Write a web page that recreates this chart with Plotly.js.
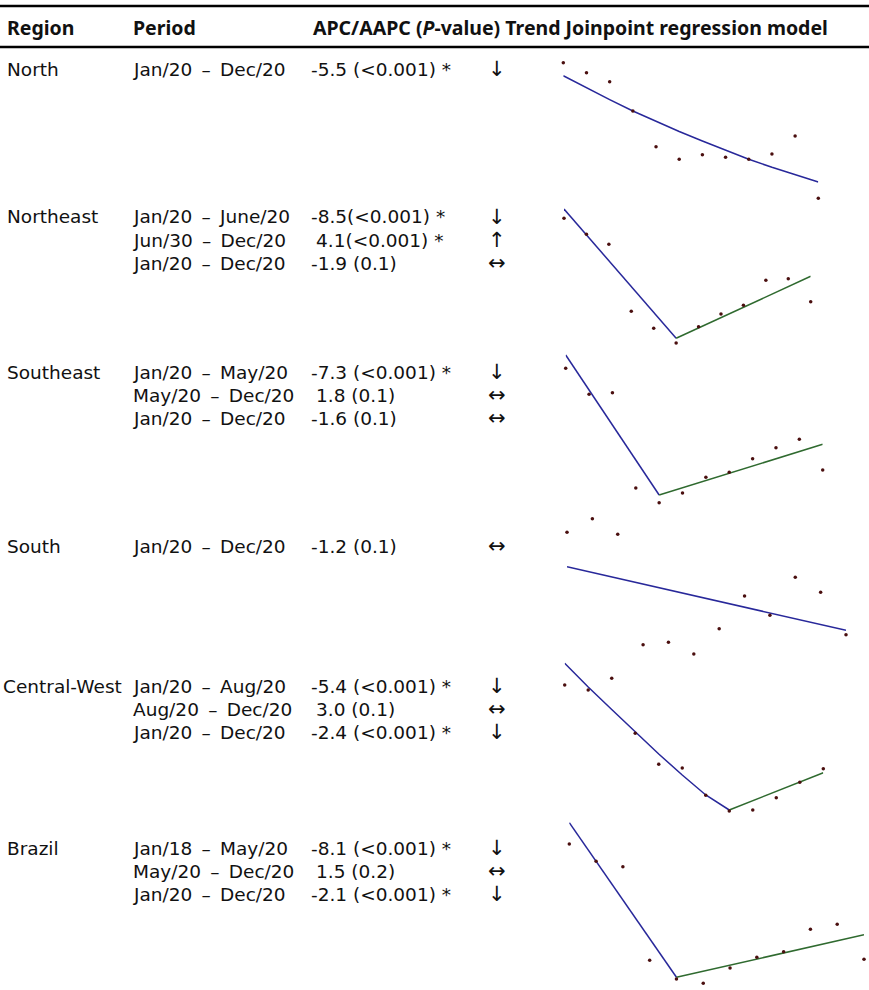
<!DOCTYPE html>
<html>
<head>
<meta charset="utf-8">
<script src="https://cdn.plot.ly/plotly-3.0.1.min.js"></script>
<style>html,body{margin:0;padding:0;background:#fff;}#chart{width:869px;height:990px;}</style>
</head>
<body>
<div id="chart"></div>
<script>
// ---------------- DATA ----------------
const months = [1,2,3,4,5,6,7,8,9,10,11,12];
const regionNames = ["North","Northeast","Southeast","South","Central-West","Brazil"];

const periods = [
  ["Jan/20 \u2013 Dec/20"],
  ["Jan/20 \u2013 June/20","Jun/30 \u2013 Dec/20","Jan/20 \u2013 Dec/20"],
  ["Jan/20 \u2013 May/20","May/20 \u2013 Dec/20","Jan/20 \u2013 Dec/20"],
  ["Jan/20 \u2013 Dec/20"],
  ["Jan/20 \u2013 Aug/20","Aug/20 \u2013 Dec/20","Jan/20 \u2013 Dec/20"],
  ["Jan/18 \u2013 May/20","May/20 \u2013 Dec/20","Jan/20 \u2013 Dec/20"]
];
const apcValues = [
  ["-5.5 (&lt;0.001) *"],
  ["-8.5(&lt;0.001) *","4.1(&lt;0.001) *","-1.9 (0.1)"],
  ["-7.3 (&lt;0.001) *","1.8 (0.1)","-1.6 (0.1)"],
  ["-1.2 (0.1)"],
  ["-5.4 (&lt;0.001) *","3.0 (0.1)","-2.4 (&lt;0.001) *"],
  ["-8.1 (&lt;0.001) *","1.5 (0.2)","-2.1 (&lt;0.001) *"]
];
const trends = [
  ["\u2193"],
  ["\u2193","\u2191","\u2194"],
  ["\u2193","\u2194","\u2194"],
  ["\u2194"],
  ["\u2193","\u2194","\u2193"],
  ["\u2193","\u2194","\u2193"]
];

// observed monthly values (relative units per panel) and joinpoint fitted segments
const northObs = [142.3,132.3,123.3,94,58.3,45.7,50.3,47.7,45.7,51,69,6.7];
const northFit = [129.3,117.2,105.4,94,83.5,73.5,64,54.7,45.7,37.7,30.2,23];

const neObs  = [131.7,115.7,105.7,38.7,21.7,7,23.3,36,44.7,69.7,71.3,48.3];
const neFit1 = [141,115.1,89.3,63.4,37.5,11.7];          // Jan-Jun
const neFit2 = [11.7,22,32.3,42.7,53,63.3,73.7];         // Jun-Dec

const seObs  = [141.7,115.7,117.3,22,7.3,17,32.7,37.7,51.3,62.3,70.7,40];
const seFit1 = [155,120,85,50,15];                       // Jan-May
const seFit2 = [15,22.2,29.5,36.7,44,51.2,58.5,65.7];    // May-Dec

const sObs = [127.7,141.3,125.7,15.3,17.7,6,31.3,64,44.7,82.7,67.7,25.3];
const sFit = [93.3,87.5,81.7,76,70.2,64.4,58.6,52.8,47,41.3,35.5,29.7];

const cwObs  = [135,130,141.7,86.7,55.7,52,24.7,9,10,22.3,37.7,51.3];
const cwFit1 = [156.7,133,110.5,88,66,45,25,10];         // Jan-Aug
const cwFit2 = [10,19.3,28.7,38,47.3];                   // Aug-Dec

const brObs  = [146,128.7,123.3,29.7,11,6.7,22,32.7,38.3,60.7,65.7,30.7];
const brFit1 = [167.3,128.7,90,51.4,12.7];               // Jan-May
const brFit2 = [12.7,18.8,24.9,31,37.1,43.2,49.2,55.3];  // May-Dec

// ---------------- LAYOUT / DRAW ----------------
const W = 869, H = 990;
const FONT = "DejaVu Sans, sans-serif";
const HFONT = "Noto Sans, sans-serif";
const BLUE = "#28289a", GREEN = "#2f6a2f", DOT = "#4a0f0f";

const panels = [
  {obs: northObs, segs: [[1, northFit, BLUE]],                 px: [563.3, 818.3], py: [55, 205]},
  {obs: neObs,    segs: [[1, neFit1, BLUE], [6, neFit2, GREEN]], px: [564, 810.7],   py: [205, 350]},
  {obs: seObs,    segs: [[1, seFit1, BLUE], [5, seFit2, GREEN]], px: [565.7, 822.7], py: [350, 510]},
  {obs: sObs,     segs: [[1, sFit, BLUE]],                     px: [567, 846],     py: [510, 660]},
  {obs: cwObs,    segs: [[1, cwFit1, BLUE], [8, cwFit2, GREEN]], px: [564.7, 823.3], py: [660, 820]},
  {obs: brObs,    segs: [[1, brFit1, BLUE], [5, brFit2, GREEN]], px: [569.3, 864],   py: [820, 990]}
];
const rowY = [[69],[217,240,263],[372,395,418],[546],[686,709,732],[848,871,894]];

const traces = [];
const layout = {
  width: W, height: H, margin: {l:0, r:0, t:0, b:0},
  paper_bgcolor: "#fff", plot_bgcolor: "rgba(0,0,0,0)",
  showlegend: false, annotations: [], shapes: [],
  font: {family: FONT, color: "#111"}
};

panels.forEach((p, i) => {
  const k = i === 0 ? "" : String(i + 1);
  layout["xaxis" + k] = {domain: [p.px[0]/W, p.px[1]/W], range: [1, 12], visible: false, fixedrange: true, anchor: "y" + k};
  layout["yaxis" + k] = {domain: [1 - p.py[1]/H, 1 - p.py[0]/H], range: [0, p.py[1] - p.py[0]], visible: false, fixedrange: true, anchor: "x" + k};
  p.segs.forEach(([start, vals, col]) => {
    traces.push({type: "scatter", mode: "lines", xaxis: "x" + k, yaxis: "y" + k,
      x: vals.map((_, j) => months[start - 1 + j]), y: vals,
      line: {color: col, width: 1.5}, cliponaxis: false, hoverinfo: "skip"});
  });
  traces.push({type: "scatter", mode: "markers", xaxis: "x" + k, yaxis: "y" + k,
    x: months, y: p.obs, marker: {color: DOT, size: 3.5}, cliponaxis: false, hoverinfo: "skip"});
});

function txt(x, y, s, size, opts, fam) {
  layout.annotations.push(Object.assign({
    xref: "paper", yref: "paper", x: x / W, y: 1 - y / H, text: s,
    showarrow: false, xanchor: "left", yanchor: "middle",
    font: {family: fam || FONT, size: size, color: "#111"}
  }, opts || {}));
}

// header
const HS = 19.5;
txt(5, 28, "<b>Region</b>", HS, null, HFONT);
txt(131, 28, "<b>Period</b>", HS, null, HFONT);
txt(311, 28, "<b>APC/AAPC (<i>P</i>-value) Trend Joinpoint regression model</b>", HS, null, HFONT);
layout.shapes.push({type: "line", xref: "paper", yref: "paper", x0: 0, x1: 1, y0: 1 - 6/H, y1: 1 - 6/H, line: {color: "#000", width: 2.5}});
layout.shapes.push({type: "line", xref: "paper", yref: "paper", x0: 0, x1: 1, y0: 1 - 47/H, y1: 1 - 47/H, line: {color: "#000", width: 2.5}});

const FS = 18.5;
regionNames.forEach((name, i) => {
  txt(name === "Central-West" ? 1 : 5, rowY[i][0], name, FS);
  periods[i].forEach((per, j) => {
    const y = rowY[i][j];
    txt(131, y, per.replace(" \u2013 ", "\u2002\u2013\u2002"), FS);
    const a = apcValues[i][j];
    txt(a.charAt(0) === "-" ? 309 : 314, y, a, FS);
    txt(497, y, trends[i][j], 21, {xanchor: "center"});
  });
});

Plotly.newPlot("chart", traces, layout, {displayModeBar: false, staticPlot: true});
</script>
</body>
</html>
